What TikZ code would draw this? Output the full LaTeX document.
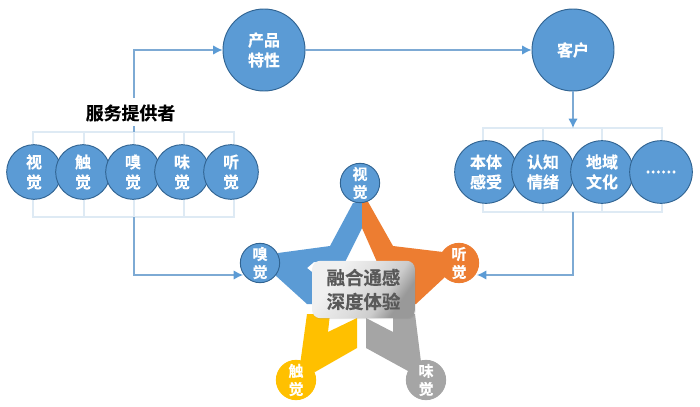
\documentclass[tikz,border=0pt]{standalone}
\usepackage{fontspec}
\setmainfont{Noto Sans CJK SC}[BoldFont={* Bold},BoldFeatures={FakeBold=0.4}]
\usetikzlibrary{arrows.meta}
\usetikzlibrary{shadows}
\tikzset{>={Latex[length=6pt,width=6pt]}}
\definecolor{ballblue}{RGB}{91,155,213}
\definecolor{balledge}{RGB}{49,100,146}
\definecolor{pathblue}{RGB}{125,170,212}
\definecolor{brackblue}{RGB}{222,234,244}
\definecolor{starorange}{RGB}{237,125,49}
\definecolor{staryellow}{RGB}{255,192,0}
\definecolor{stargrey}{RGB}{165,165,165}
\definecolor{darktext}{RGB}{89,89,89}
\pgfdeclarehorizontalshading{boxshade}{100bp}{rgb(0bp)=(.94,.94,.94);rgb(32bp)=(.94,.94,.94);rgb(50bp)=(.87,.87,.87);rgb(62bp)=(.80,.80,.80);rgb(72bp)=(.60,.60,.60);rgb(100bp)=(.60,.60,.60)}
\tikzstyle{ball}=[circle,inner sep=0pt,fill=ballblue,draw=balledge,line width=0.7pt,text=white,align=center]
\tikzstyle{bigball}=[ball,minimum size=61.5pt,font=\bfseries\fontsize{12}{15}\selectfont]
\tikzstyle{midball}=[ball,minimum size=47pt,font=\bfseries\fontsize{12}{15}\selectfont]
\tikzstyle{smallball}=[ball,minimum size=41pt,font=\bfseries\fontsize{12}{15}\selectfont]
\tikzstyle{starball}=[ball,minimum size=29.5pt,font=\bfseries\fontsize{11.25}{13.5}\selectfont]
\tikzstyle{bracket}=[draw=brackblue,line width=1.1pt]
\tikzstyle{pathplain}=[draw=pathblue,line width=0.9pt]
\tikzstyle{pathline}=[pathplain,-{Latex[length=7pt,width=7pt,color=ballblue]}]

\begin{document}
\begin{tikzpicture}[x=0.75pt,y=-0.75pt]
    \useasboundingbox (0,0) rectangle (700,407);

    % brackets behind the two rows
    \draw[bracket] (33,132) rectangle (234,217);
    \foreach \x in {84,134,184}{
      \draw[bracket] (\x,132) -- (\x,217);
    }
    \draw[bracket] (483,128) rectangle (662,212);
    \foreach \x in {543,602}{
      \draw[bracket] (\x,128) -- (\x,212);
    }

    % star
    \fill[ballblue] (353,203) -- (330,246) -- (278,253) -- (275,275) -- (307,304) -- (330,304) -- (330,272) -- (312,272) -- (307,268) -- (314,262) -- (345,262) -- (362,228) -- (362,200) -- cycle;
    \fill[starorange] (362,200) -- (362,228) -- (377,262) -- (400,262) -- (400,304) -- (416,304) -- (445,277) -- (443,252) -- (393,246) -- (367,200) -- cycle;
    \fill[staryellow] (307,314) -- (300,365) -- (315,372) -- (357,348) -- (357,318) -- (328,332) -- (330,314) -- cycle;
    \fill[stargrey] (366,318) -- (366,348) -- (408,371) -- (422,370) -- (415,314) -- (393,314) -- (393,332) -- cycle;

    \node[starball] (seeS) at (360,183) {视\\觉};
    \node[starball] (smellS) at (260,263) {嗅\\觉};
    \node[starball,fill=starorange,draw=starorange] (hearS) at (459,263) {听\\觉};
    \node[starball,fill=staryellow,draw=staryellow] (touchS) at (296,380) {触\\觉};
    \node[starball,fill=stargrey,draw=stargrey] (tasteS) at (426,380) {味\\觉};

    \node[rounded corners=6pt,minimum width=77pt,minimum height=43pt,inner sep=0pt,
      drop shadow={opacity=0.2,shadow xshift=0.6pt,shadow yshift=-0.8pt},
      shading=boxshade,shading angle=-35,
      text=darktext,align=center,font=\bfseries\fontsize{13.8}{18}\selectfont] (depth) at (363.5,289.5) {融合通感\\深度体验};

    % left row
    \node[smallball] (see) at (34,172) {视\\觉};
    \node[smallball] (touch) at (83,172) {触\\觉};
    \node[smallball] (smell) at (133,172) {嗅\\觉};
    \node[smallball] (taste) at (182,172) {味\\觉};
    \node[smallball] (hear) at (231,172) {听\\觉};

    % right row
    \node[midball] (body) at (486,172) {本体\\感受};
    \node[midball] (mind) at (543,172) {认知\\情绪};
    \node[midball] (land) at (602,172) {地域\\文化};
    \node[midball] (more) at (661,172) {......};

    % top
    \node[bigball] (product) at (264,50) {产品\\特性};
    \node[bigball] (client) at (573,50) {客户};
    \node[font=\bfseries\fontsize{13.4}{16}\selectfont,text=black] (provider) at (130.5,113) {服务提供者};

    \coordinate (leftfoot) at (134,217);
    \coordinate (rightfoot) at (573,212);
    \coordinate (righttop) at (573,128);
    \coordinate (lefttick) at (134,132);
    \coordinate (tickend) at (134,126);
    \coordinate (leftup) at (134,98);
    \coordinate (smellin) at (243,275);
    \coordinate (hearin) at (477,275);

    \draw[pathplain] (lefttick) -- (tickend);
    \draw[pathline] (leftup) |- (product);
    \draw[pathline] (product) -- (client);
    \draw[pathline] (client) -- (righttop);
    \draw[pathline] (leftfoot) |- (smellin);
    \draw[pathline] (rightfoot) |- (hearin);
  \end{tikzpicture}
\end{document}
